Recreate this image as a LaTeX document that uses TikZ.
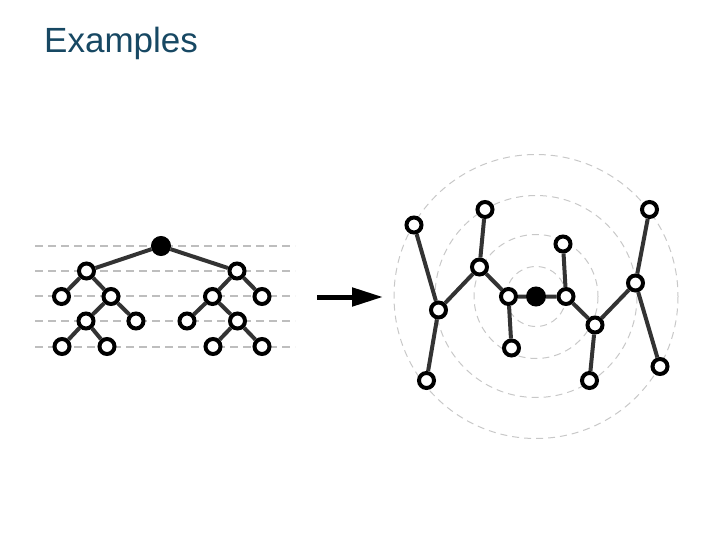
\documentclass[tikz,border=0pt]{standalone}
\usepackage{fontspec}
\setmainfont{Liberation Sans}
\usetikzlibrary{arrows.meta}
\definecolor{titlec}{RGB}{23,72,99}
\definecolor{edgec}{RGB}{51,51,51}
\definecolor{guidec}{RGB}{190,190,190}
\definecolor{ringc}{RGB}{200,200,200}
\tikzset{
  wn/.style={circle,draw=black,fill=white,line width=4pt,minimum size=15pt,inner sep=0pt},
  bn/.style={circle,fill=black,draw=black,line width=1pt,minimum size=19pt,inner sep=0pt},
  ed/.style={draw=edgec,line width=4pt},
  guide/.style={draw=guidec,line width=1.5pt,dash pattern=on 8pt off 5pt},
  ring/.style={draw=ringc,line width=1pt,dash pattern=on 7pt off 5pt},
}
\begin{document}
\begin{tikzpicture}[x=1pt,y=-1pt]
\useasboundingbox (0,0) rectangle (720,540);
\node[anchor=base west,text=titlec,font=\fontsize{35}{40}\selectfont,inner sep=0pt] (title) at (44,53) {Examples};
% guide lines
\foreach \yy in {246,271,296,321,347} \draw[guide] (35,\yy) -- (295,\yy);
% left tree
\node[bn] (r) at (161,246) {};
\node[wn] (a) at (86.5,271) {};
\node[wn] (b) at (237,271) {};
\node[wn] (a1) at (61.5,296.5) {};
\node[wn] (a2) at (111,296.5) {};
\node[wn] (b1) at (212.5,296.5) {};
\node[wn] (b2) at (262,296.5) {};
\node[wn] (a21) at (86,321) {};
\node[wn] (a22) at (136,321) {};
\node[wn] (b11) at (187,321) {};
\node[wn] (b12) at (237.5,321) {};
\node[wn] (a211) at (62,346.5) {};
\node[wn] (a212) at (107,346.5) {};
\node[wn] (b121) at (213,346.5) {};
\node[wn] (b122) at (262,346.5) {};
\draw[ed] (r)--(a) (r)--(b) (a)--(a1) (a)--(a2) (a2)--(a21) (a2)--(a22) (a21)--(a211) (a21)--(a212)
  (b)--(b1) (b)--(b2) (b1)--(b11) (b1)--(b12) (b12)--(b121) (b12)--(b122);
% arrow
\coordinate (p1) at (317,297);
\coordinate (p2) at (383,297);
\draw[line width=5pt,-{Triangle[length=31pt,width=18pt]}] (p1) -- (p2);
% rings
\coordinate (c0) at (536,296.5);
\foreach \rr in {30,62,101,142} \draw[ring] (c0) circle (\rr);
% right graph
\node[bn] (c) at (536,296.5) {};
\node[wn] (A) at (508.5,296.5) {};
\node[wn] (B) at (566,296.5) {};
\node[wn] (C) at (511.5,348) {};
\node[wn] (D) at (563,244) {};
\node[wn] (E) at (479.5,267) {};
\node[wn] (F) at (485,209.5) {};
\node[wn] (G) at (438.5,310) {};
\node[wn] (H) at (414,225) {};
\node[wn] (I) at (426.5,380.5) {};
\node[wn] (J) at (595,325) {};
\node[wn] (K) at (589.5,380.5) {};
\node[wn] (L) at (635.5,283) {};
\node[wn] (M) at (649.5,209.5) {};
\node[wn] (N) at (660,366.5) {};
\draw[ed] (c)--(A) (c)--(B) (A)--(C) (A)--(E) (E)--(F) (E)--(G) (G)--(H) (G)--(I)
  (B)--(D) (B)--(J) (J)--(K) (J)--(L) (L)--(M) (L)--(N);
\end{tikzpicture}
\end{document}
